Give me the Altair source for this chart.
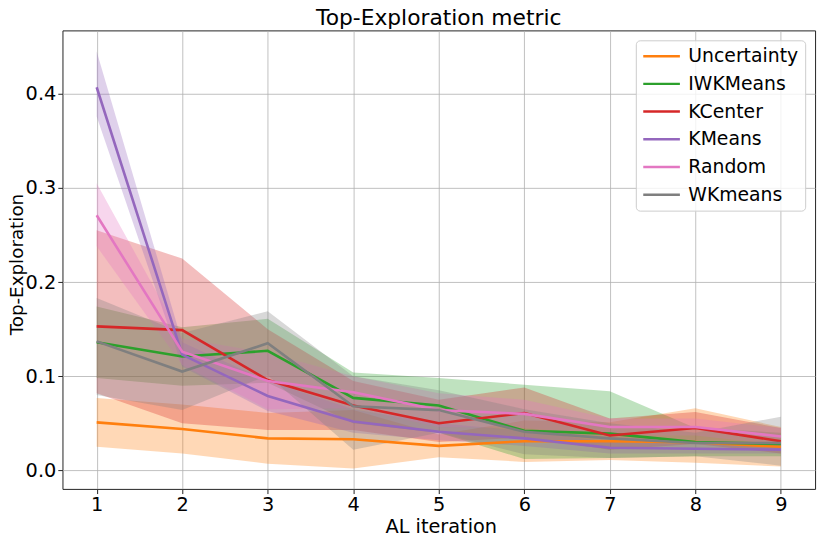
import altair as alt
import pandas as pd

iterations = [1, 2, 3, 4, 5, 6, 7, 8, 9]
methods = ["Uncertainty", "IWKMeans", "KCenter", "KMeans", "Random", "WKmeans"]
colors = ["#ff7f0e", "#2ca02c", "#d62728", "#9467bd", "#e377c2", "#7f7f7f"]

mean_uncertainty = [0.051, 0.044, 0.034, 0.033, 0.026, 0.031, 0.031, 0.030, 0.025]
low_uncertainty = [0.025, 0.018, 0.007, 0.002, 0.014, 0.009, 0.011, 0.008, 0.004]
up_uncertainty = [0.077, 0.070, 0.061, 0.064, 0.038, 0.053, 0.051, 0.066, 0.046]

mean_iwkmeans = [0.136, 0.121, 0.127, 0.077, 0.069, 0.042, 0.039, 0.030, 0.028]
low_iwkmeans = [0.098, 0.090, 0.093, 0.050, 0.040, 0.012, 0.013, 0.015, 0.015]
up_iwkmeans = [0.174, 0.152, 0.161, 0.104, 0.098, 0.091, 0.084, 0.045, 0.040]

mean_kcenter = [0.153, 0.149, 0.096, 0.069, 0.050, 0.061, 0.037, 0.045, 0.031]
low_kcenter = [0.082, 0.050, 0.043, 0.043, 0.030, 0.035, 0.022, 0.028, 0.018]
up_kcenter = [0.255, 0.225, 0.150, 0.095, 0.075, 0.088, 0.055, 0.062, 0.045]

mean_kmeans = [0.407, 0.123, 0.079, 0.052, 0.041, 0.034, 0.024, 0.023, 0.022]
low_kmeans = [0.376, 0.110, 0.063, 0.040, 0.032, 0.026, 0.018, 0.018, 0.018]
up_kmeans = [0.445, 0.136, 0.095, 0.065, 0.050, 0.042, 0.030, 0.028, 0.027]

mean_random = [0.271, 0.126, 0.095, 0.083, 0.064, 0.060, 0.046, 0.046, 0.036]
low_random = [0.238, 0.112, 0.065, 0.066, 0.046, 0.045, 0.037, 0.037, 0.027]
up_random = [0.305, 0.140, 0.125, 0.100, 0.082, 0.075, 0.055, 0.055, 0.045]

mean_wkmeans = [0.137, 0.105, 0.135, 0.068, 0.064, 0.041, 0.034, 0.029, 0.029]
low_wkmeans = [0.080, 0.064, 0.101, 0.022, 0.040, 0.017, 0.013, 0.015, 0.005]
up_wkmeans = [0.183, 0.146, 0.169, 0.100, 0.085, 0.065, 0.050, 0.040, 0.057]

series = {
    "Uncertainty": (mean_uncertainty, low_uncertainty, up_uncertainty),
    "IWKMeans": (mean_iwkmeans, low_iwkmeans, up_iwkmeans),
    "KCenter": (mean_kcenter, low_kcenter, up_kcenter),
    "KMeans": (mean_kmeans, low_kmeans, up_kmeans),
    "Random": (mean_random, low_random, up_random),
    "WKmeans": (mean_wkmeans, low_wkmeans, up_wkmeans),
}

rows = []
for order, m in enumerate(methods):
    mean, low, up = series[m]
    for i, it in enumerate(iterations):
        rows.append({"iteration": it, "method": m, "order": order,
                     "mean": mean[i], "low": low[i], "up": up[i]})
df = pd.DataFrame(rows)

FONT = "DejaVu Sans"

x_enc = alt.X("iteration:Q",
              scale=alt.Scale(domain=[0.6, 9.4], nice=False, zero=False),
              axis=alt.Axis(values=iterations, format="d", title="AL iteration",
                            titleX=382, titleY=44, titleBaseline="alphabetic",
                            titleAnchor="middle"))
y_scale = alt.Scale(domain=[-0.0197, 0.4674], nice=False, zero=False)
color_scale = alt.Scale(domain=methods, range=colors)

legend = alt.Legend(title=None, orient="top-right", offset=10,
                    symbolType="stroke", symbolSize=1369,
                    symbolStrokeWidth=2.5, clipHeight=20,
                    rowPadding=8, labelFontSize=19,
                    labelFont=FONT, labelOffset=7,
                    labelColor="black", padding=6,
                    strokeColor="#cccccc",
                    fillColor="rgba(255,255,255,0.8)",
                    cornerRadius=4, symbolOpacity=1)

band = alt.Chart(df).mark_area(opacity=0.3, interpolate="linear").encode(
    x=x_enc,
    y=alt.Y("low:Q", scale=y_scale,
            axis=alt.Axis(values=[0, 0.1, 0.2, 0.3, 0.4], format=".1f",
                          title="Top-Exploration", titleX=-36, titleY=236,
                          titleBaseline="bottom", titleFontSize=18.5)),
    y2="up:Q",
    color=alt.Color("method:N", scale=color_scale, legend=legend),
    order="order:Q",
)

lines = alt.Chart(df).mark_line(strokeWidth=2.6).encode(
    x=x_enc,
    y=alt.Y("mean:Q", scale=y_scale),
    color=alt.Color("method:N", scale=color_scale, legend=legend),
    order="iteration:Q",
)

chart = alt.layer(band, lines).properties(
    width=760, height=463,
    padding={"left": 55, "top": 20, "right": 7, "bottom": 52},
    autosize=alt.AutoSizeParams(type="none"),
    title=alt.TitleParams("Top-Exploration metric", font=FONT, fontSize=22,
                          fontWeight="normal", anchor="middle", color="black",
                          offset=0),
).configure_view(
    stroke="#222222", strokeWidth=1
).configure_axis(
    labelFont=FONT, labelFontSize=19.5, labelColor="black",
    titleFont=FONT, titleFontSize=19.5, titleFontWeight="normal", titleColor="black",
    grid=True, gridColor="#b0b0b0", gridWidth=0.8, domain=False,
    tickColor="#222222", tickSize=4.7, tickWidth=1, labelPadding=2,
)

chart.save("out.html", embed_options={"renderer": "svg", "actions": False})
